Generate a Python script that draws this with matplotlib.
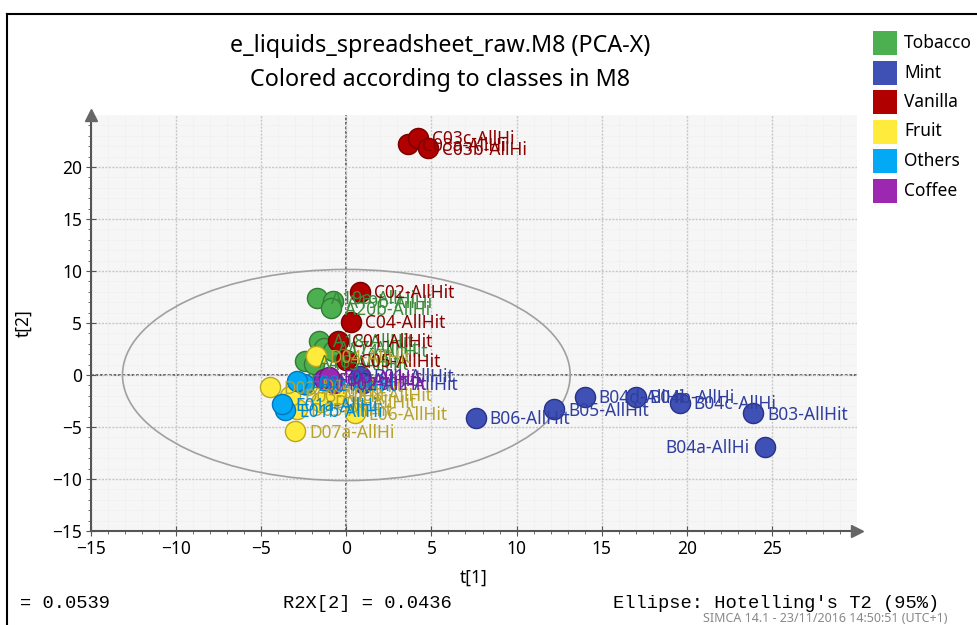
import matplotlib
matplotlib.use("Agg")
import matplotlib.pyplot as plt
from matplotlib.patches import Ellipse, Rectangle
from matplotlib.lines import Line2D
import numpy as np

plt.rcParams['font.family'] = ['Noto Sans', 'DejaVu Sans']

# score values t[1], t[2]
tobacco_x = [-1.7, -0.8, -0.9, -1.6, -1.3, -2.4, -1.9, -0.8]
tobacco_y = [7.4, 7.1, 6.4, 3.3, 2.6, 1.3, 1.1, 2.3]
tobacco_lab = ["A19a-AllHi", "A19b-AllHi", "A20b-AllHi", "A18-AllHit", "A17-AllHit",
               "A16-AllHit", "A15-AllHit", "A14-AllHit"]

mint_x = [7.6, 12.2, 14.0, 17.0, 19.6, 23.9, 24.6, 0.8, 1.0]
mint_y = [-4.1, -3.3, -2.1, -2.1, -2.7, -3.7, -6.9, -0.1, -0.8]
mint_lab = ["B06-AllHit", "B05-AllHit", "B04d-AllHi", "B04b-AllHi", "B04c-AllHi",
            "B03-AllHit", "B04a-AllHi", "B01-AllHit", "B02-AllHit"]

vanilla_x = [3.6, 4.2, 4.8, 0.8, 0.3, -0.5, 0.0]
vanilla_y = [22.2, 22.8, 21.8, 8.0, 5.1, 3.3, 1.4]
vanilla_lab = ["C03a-AllHi", "C03c-AllHi", "C03b-AllHi", "C02-AllHit", "C04-AllHit",
               "C01-AllHit", "C05-AllHit"]

fruit_x = [-1.8, -4.5, -3.0, -2.9, 0.5, -2.3, -3.3, -1.5, -0.6]
fruit_y = [1.8, -1.2, -5.4, -3.3, -3.7, -1.0, -2.0, -2.6, -1.9]
fruit_lab = ["D04-AllHit", "D02-AllHit", "D07a-AllHi", "D05-AllHit", "E06-AllHit",
             "D01-AllHit", "D03-AllHit", "D06-AllHit", "D08-AllHit"]

others_x = [-3.6, -3.8, -2.5, -2.9]
others_y = [-3.4, -2.8, -0.9, -0.6]
others_lab = ["E01b-AllHi", "E01a-AllHi", "E02-AllHit", "E03-AllHit"]

coffee_x = [-1.3, -0.7, -1.0]
coffee_y = [-0.4, -0.8, -0.2]
coffee_lab = ["F01-AllHit", "F02-AllHit", "F03-AllHit"]

classes = ["Tobacco", "Mint", "Vanilla", "Fruit", "Others", "Coffee"]
face = ["#4caf50", "#3f51b5", "#b00000", "#ffeb3b", "#03a9f4", "#9c27b0"]
edge = ["#2f7d32", "#27328a", "#7a0000", "#b8a820", "#0277bd", "#6a1b7a"]
txtc = ["#3a8a3a", "#303f9f", "#8b0000", "#b5a32a", "#0288d1", "#7b1fa2"]

data = [(tobacco_x, tobacco_y, tobacco_lab), (mint_x, mint_y, mint_lab),
        (vanilla_x, vanilla_y, vanilla_lab), (fruit_x, fruit_y, fruit_lab),
        (others_x, others_y, others_lab), (coffee_x, coffee_y, coffee_lab)]

fig = plt.figure(figsize=(9.78, 6.25), dpi=100)
ax = fig.add_axes([91/978, 1-531/625, (857-91)/978, (531-115)/625])
ax.set_xlim(-15, 30)
ax.set_ylim(-15, 25)
ax.set_facecolor("#f6f6f6")

ax.set_xticks(np.arange(-15, 30, 5))
ax.set_yticks(np.arange(-15, 25, 5))
ax.set_xticks(np.arange(-15, 30, 1), minor=True)
ax.set_yticks(np.arange(-15, 25, 1), minor=True)
ax.grid(which="minor", color="#e6e6e6", lw=0.5, ls=":")
ax.grid(which="major", color="#c8c8c8", lw=1.0, ls=(0, (1.5, 1)))
ax.axhline(0, color="#555555", lw=1.3, ls=(0, (1.5, 1)), zorder=1)
ax.axvline(0, color="#555555", lw=1.3, ls=(0, (1.5, 1)), zorder=1)

for s in ["top", "right"]:
    ax.spines[s].set_visible(False)
for s in ["left", "bottom"]:
    ax.spines[s].set_color("#555555")
    ax.spines[s].set_linewidth(1.5)
ax.tick_params(which="major", direction="inout", length=7, color="#555555", labelsize=12.5, pad=3)
ax.tick_params(which="minor", direction="out", length=2, color="#555555")

# axis arrows
ax.plot([-15], [25], marker="^", ms=9, color="#666666", clip_on=False, zorder=5)
ax.plot([30], [-15], marker=">", ms=9, color="#666666", clip_on=False, zorder=5)

ax.add_patch(Ellipse((0, 0), 2*13.15, 2*10.15, fill=False, ec="#a0a0a0", lw=1.2, zorder=2))

for i, (xs, ys, labs) in enumerate(data):
    ax.scatter(xs, ys, s=210, c=face[i], edgecolors=edge[i], linewidths=1.0, zorder=3)
    for x, y, lab in zip(xs, ys, labs):
        if lab == "B04a-AllHi":
            ax.annotate(lab, (x, y), xytext=(-11, -1), textcoords="offset points",
                        ha="right", va="center", fontsize=12.5, color=txtc[i], zorder=4)
        else:
            ax.annotate(lab, (x, y), xytext=(10, -1), textcoords="offset points",
                        ha="left", va="center", fontsize=12.5, color=txtc[i], zorder=4)

ax.set_xlabel("t[1]", fontsize=12.5, labelpad=8)
ax.set_ylabel("t[2]", fontsize=12.5, labelpad=14)

fig.text(440/978, 1-46/625, "e_liquids_spreadsheet_raw.M8 (PCA-X)", ha="center", va="center", fontsize=16.8)
fig.text(440/978, 1-80/625, "Colored according to classes in M8", ha="center", va="center", fontsize=16.8)

# legend boxes
for i, c in enumerate(classes):
    yc = 43 + i*29.5
    fig.add_artist(Rectangle((873/978, 1-(yc+12)/625), 24/978, 24/625, fc=face[i], ec="none",
                             transform=fig.transFigure))
    fig.text(904/978, 1-yc/625, c, ha="left", va="center", fontsize=12.5)

# frame
fig.add_artist(Line2D([7/978, 7/978], [0, 1-14/625], color="black", lw=1.5, transform=fig.transFigure))
fig.add_artist(Line2D([7/978, 1], [1-14/625, 1-14/625], color="black", lw=1.5, transform=fig.transFigure))

fig.text(20/978, 1-604/625, "= 0.0539", ha="left", va="center", fontsize=13.5, family="Liberation Mono")
fig.text(283/978, 1-604/625, "R2X[2] = 0.0436", ha="left", va="center", fontsize=13.5, family="Liberation Mono")
fig.text(613/978, 1-604/625, "Ellipse: Hotelling's T2 (95%)", ha="left", va="center", fontsize=13.5,
         family="Liberation Mono")
fig.text(703/978, 1-618/625, "SIMCA 14.1 - 23/11/2016 14:50:51 (UTC+1)", ha="left", va="center",
         fontsize=9, color="#888888")

fig.savefig("out.png", dpi=100)
